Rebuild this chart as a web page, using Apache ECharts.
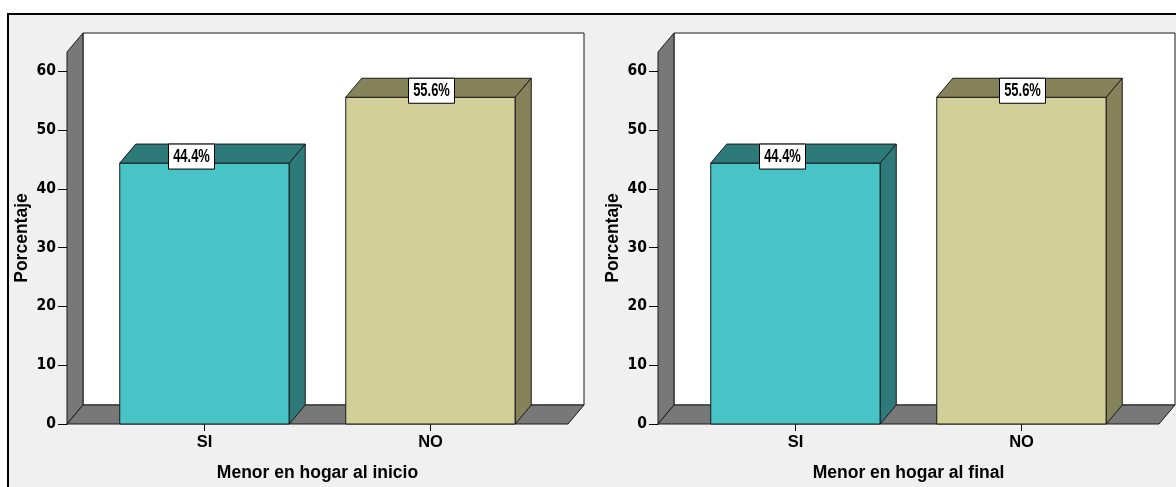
<!DOCTYPE html>
<html>
<head>
<meta charset="utf-8">
<script src="https://cdn.jsdelivr.net/npm/echarts@6/dist/echarts.min.js"></script>
<style>
html,body{margin:0;padding:0;background:#fff;}
#chart{width:1176px;height:487px;}
</style>
</head>
<body>
<div id="chart"></div>
<script>
// ---- data ----
const categories = ['SI', 'NO'];
const valuesInicio = [44.4, 55.6];
const valuesFinal = [44.4, 55.6];
const yTicks = [0, 10, 20, 30, 40, 50, 60];
const yMax = 63.3;
const xTitles = ['Menor en hogar al inicio', 'Menor en hogar al final'];
const yTitle = 'Porcentaje';

// ---- style ----
const frontColors = ['#48c3c6', '#d3cf98'];
const darkColors = ['#2e7a7a', '#86825a'];
const wallGray = '#787878';
const edge = '#1a1a1a';
const DX = 16, DY = 19;
const wallPad = 24.5;
const labelShift = [-13, 1];
const narrow = "'Liberation Sans Narrow','Arial Narrow','DejaVu Sans Condensed',sans-serif";
const sans = "'Liberation Sans',Arial,sans-serif";

function renderWalls(params, api) {
  const cs = params.coordSys;
  const L = cs.x - wallPad, R = cs.x + cs.width + wallPad;
  const T = cs.y, B = cs.y + cs.height;
  const st = (fill) => ({ fill: fill, stroke: edge, lineWidth: 1 });
  return {
    type: 'group',
    children: [
      { type: 'rect', shape: { x: L + DX, y: T - DY, width: R - L, height: B - T }, style: st('#ffffff') },
      { type: 'polygon', shape: { points: [[L, B], [L, T], [L + DX, T - DY], [L + DX, B - DY]] }, style: st(wallGray) },
      { type: 'polygon', shape: { points: [[L, B], [R, B], [R + DX, B - DY], [L + DX, B - DY]] }, style: st(wallGray) }
    ]
  };
}

function renderBar(params, api) {
  const i = api.value(0);
  const v = api.value(1);
  const top = api.coord([i, v]);
  const base = api.coord([i, 0]);
  const w = api.size([1, 0])[0] * 0.75;
  const x = top[0] - w / 2, y = top[1], yb = base[1];
  const st = (fill) => ({ fill: fill, stroke: edge, lineWidth: 1 });
  const cx = top[0] + labelShift[i];
  const bw = 46, bh = 25;
  return {
    type: 'group',
    children: [
      { type: 'rect', shape: { x: x, y: y, width: w, height: yb - y }, style: st(frontColors[i]) },
      { type: 'polygon', shape: { points: [[x, y], [x + w, y], [x + w + DX, y - DY], [x + DX, y - DY]] }, style: st(darkColors[i]) },
      { type: 'polygon', shape: { points: [[x + w, y], [x + w + DX, y - DY], [x + w + DX, yb - DY], [x + w, yb]] }, style: st(darkColors[i]) },
      { type: 'rect', shape: { x: cx - bw / 2, y: y - DY, width: bw, height: bh }, style: { fill: '#fff', stroke: '#000', lineWidth: 1 }, z2: 10 },
      { type: 'text', z2: 11, x: cx, y: y - DY + bh / 2 + 0.5, scaleX: 0.72, scaleY: 1,
        style: { text: v.toFixed(1) + '%', x: 0, y: 0, align: 'center', verticalAlign: 'middle', font: 'bold 18px ' + sans, fill: '#000' } }
    ]
  };
}

const panels = [valuesInicio, valuesFinal];
const gridLefts = [91.5, 682.5];

const option = {
  backgroundColor: '#f0f0f0',
  animation: false,
  graphic: [
    { type: 'rect', shape: { x: 0, y: 0, width: 1176, height: 13 }, style: { fill: '#fff' }, silent: true },
    { type: 'rect', shape: { x: 0, y: 0, width: 7, height: 487 }, style: { fill: '#fff' }, silent: true },
    { type: 'rect', shape: { x: 8, y: 14, width: 1200, height: 500 }, style: { fill: 'none', stroke: '#000', lineWidth: 2 }, silent: true }
  ],
  grid: gridLefts.map(l => ({ left: l, top: 52, width: 452, height: 372 })),
  xAxis: panels.map((_, k) => ({
    gridIndex: k,
    type: 'category',
    data: categories,
    axisLine: { show: false },
    axisTick: { show: true, alignWithLabel: true, length: 7, lineStyle: { color: '#000' } },
    axisLabel: { margin: 10, color: '#000', fontWeight: 'bold', fontSize: 16.5, fontFamily: sans },
    splitLine: { show: false },
    name: xTitles[k],
    nameLocation: 'middle',
    nameGap: 40,
    nameTextStyle: { color: '#000', fontWeight: 'bold', fontSize: 17.5, fontFamily: sans }
  })),
  yAxis: panels.map((_, k) => ({
    gridIndex: k,
    type: 'value',
    min: 0,
    max: yMax,
    interval: 10,
    offset: wallPad,
    axisLine: { show: true, lineStyle: { color: '#000' } },
    axisTick: { show: true, length: 9, customValues: yTicks, lineStyle: { color: '#000' } },
    axisLabel: { customValues: yTicks, margin: 11, color: '#000', fontWeight: 'bold', fontSize: 15.5, fontFamily: narrow },
    splitLine: { show: false },
    name: yTitle,
    nameLocation: 'middle',
    nameGap: 36,
    nameTextStyle: { color: '#000', fontWeight: 'bold', fontSize: 17.5, fontFamily: sans }
  })),
  series: panels.flatMap((vals, k) => [
    {
      type: 'custom', xAxisIndex: k, yAxisIndex: k, z: 1,
      renderItem: renderWalls,
      data: [[0, 0]],
      encode: { x: 0, y: 1 },
      silent: true
    },
    {
      type: 'custom', xAxisIndex: k, yAxisIndex: k, z: 3,
      renderItem: renderBar,
      data: categories.map((c, i) => [i, vals[i]]),
      encode: { x: 0, y: 1 }
    }
  ])
};

const chart = echarts.init(document.getElementById('chart'), null, { renderer: 'canvas' });
chart.setOption(option);
</script>
</body>
</html>
